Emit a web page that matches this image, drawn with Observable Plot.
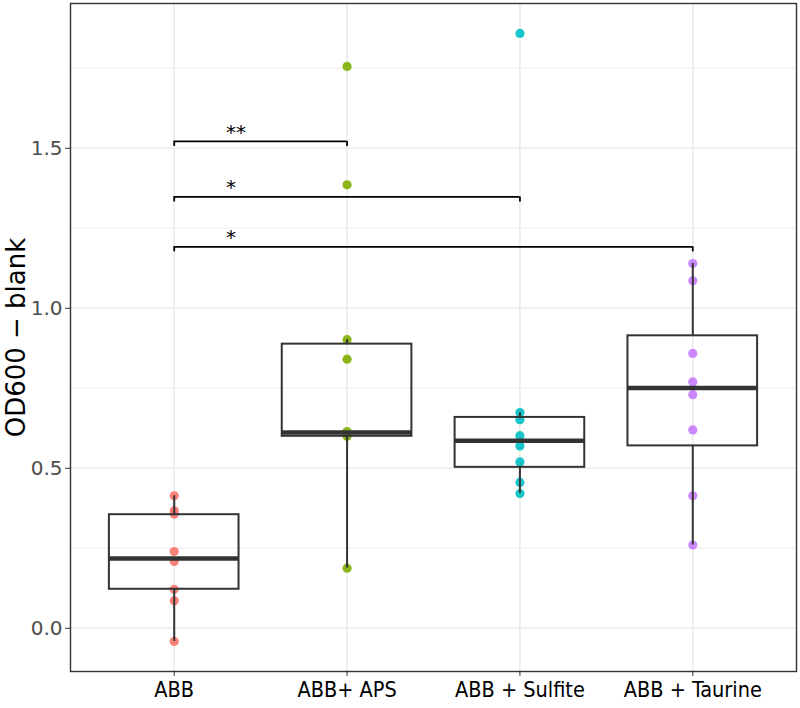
<!DOCTYPE html>
<html>
<head>
<meta charset="utf-8">
<script src="https://cdn.jsdelivr.net/npm/d3@7"></script>
<script src="https://cdn.jsdelivr.net/npm/@observablehq/plot@0.6"></script>
<style>
  html, body { margin: 0; padding: 0; background: #fff; }
  #chart svg { display: block; }
</style>
</head>
<body>
<div id="chart"></div>
<script>
// ---- data ----
const groups = ["ABB", "ABB+ APS", "ABB + Sulfite", "ABB + Taurine"];
const groupColors = ["#F8766D", "#7CAE00", "#00BFC4", "#C77CFF"];

const abbValues = [0.414, 0.367, 0.357, 0.240, 0.209, 0.122, 0.086, -0.041];
const apsValues = [1.756, 1.386, 0.902, 0.841, 0.615, 0.600, 0.188];
const sulfiteValues = [1.859, 0.674, 0.652, 0.602, 0.570, 0.520, 0.456, 0.421];
const taurineValues = [1.140, 1.086, 0.859, 0.770, 0.730, 0.620, 0.414, 0.260];

// box statistics (as drawn)
const boxLow    = [-0.041, 0.188, 0.421, 0.260];
const boxQ1     = [0.122, 0.600, 0.503, 0.570];
const boxMedian = [0.218, 0.612, 0.586, 0.751];
const boxQ3     = [0.355, 0.888, 0.659, 0.914];
const boxHigh   = [0.414, 0.902, 0.674, 1.140];

// significance brackets
const bracketFrom = [1, 1, 1];
const bracketTo = [2, 3, 4];
const bracketY = [1.5216, 1.348, 1.192];
const bracketLabel = ["**", "*", "*"];
const bracketLabelX = [1.30, 1.30, 1.30];
const bracketTip = 0.0156;

const yTicks = [0, 0.5, 1.0, 1.5];
const yMinor = [0.25, 0.75, 1.25, 1.75];
const yTitle = "OD600 \u2212 blank";

// ---- build tables ----
const allValues = [abbValues, apsValues, sulfiteValues, taurineValues];
const points = allValues.flatMap((vals, i) => vals.map(v => ({pos: i + 1, group: groups[i], value: v})));
const boxes = groups.map((g, i) => ({
  pos: i + 1, group: g,
  low: boxLow[i], q1: boxQ1[i], median: boxMedian[i], q3: boxQ3[i], high: boxHigh[i]
}));
const brackets = bracketFrom.map((f, i) => ({from: f, to: bracketTo[i], y: bracketY[i], label: bracketLabel[i], lx: bracketLabelX[i]}));
const tips = brackets.flatMap(b => [{x: b.from, y: b.y}, {x: b.to, y: b.y}]);

const halfWidth = 0.375;
const boxStroke = "#333333";

const chart = Plot.plot({
  width: 800,
  height: 708,
  marginLeft: 70,
  marginRight: 4,
  marginTop: 3,
  marginBottom: 37,
  style: {fontFamily: "'DejaVu Sans', sans-serif", background: "#fff"},
  x: {domain: [0.4, 4.6], axis: null},
  y: {domain: [-0.135, 1.9525], axis: null},
  color: {domain: groups, range: groupColors},
  marks: [
    // grid
    Plot.gridY(yMinor, {stroke: "#EBEBEB", strokeOpacity: 1, strokeWidth: 0.8}),
    Plot.gridY(yTicks, {stroke: "#EBEBEB", strokeOpacity: 1, strokeWidth: 1.6}),
    Plot.gridX([1, 2, 3, 4], {stroke: "#EBEBEB", strokeOpacity: 1, strokeWidth: 1.6}),
    // points
    Plot.dot(points, {x: "pos", y: "value", fill: "group", r: 4.6, fillOpacity: 0.9, stroke: "none"}),
    // whiskers
    Plot.ruleX(boxes, {x: "pos", y1: "low", y2: "q1", stroke: boxStroke, strokeWidth: 2}),
    Plot.ruleX(boxes, {x: "pos", y1: "q3", y2: "high", stroke: boxStroke, strokeWidth: 2}),
    // boxes
    Plot.rect(boxes, {x1: d => d.pos - halfWidth, x2: d => d.pos + halfWidth, y1: "q1", y2: "q3", fill: "none", stroke: boxStroke, strokeWidth: 2}),
    // medians
    Plot.ruleY(boxes, {y: "median", x1: d => d.pos - halfWidth, x2: d => d.pos + halfWidth, stroke: boxStroke, strokeWidth: 4.4}),
    // brackets
    Plot.ruleY(brackets, {y: "y", x1: "from", x2: "to", stroke: "#000", strokeWidth: 1.8}),
    Plot.ruleX(tips, {x: "x", y1: "y", y2: d => d.y - bracketTip, stroke: "#000", strokeWidth: 1.8}),
    Plot.text(brackets, {x: "lx", y: "y", text: "label", textAnchor: "start", dy: -9, fontSize: 20, fontFamily: "'DejaVu Sans', sans-serif", fill: "#000"}),
    // frame
    Plot.frame({stroke: "#333333", strokeWidth: 1.4}),
    // axes
    Plot.axisY(yTicks, {tickFormat: d3.format(".1f"), tickSize: 5, tickPadding: 3, stroke: "#333", fill: "#4D4D4D", fontSize: 20, fontFamily: "'DejaVu Sans', sans-serif", label: null}),
    Plot.axisX([1, 2, 3, 4], {tickFormat: d => groups[d - 1], tickSize: 5, tickPadding: 5, stroke: "#333", fill: "#000", fontSize: 21.5, fontFamily: "'DejaVu Sans Condensed', 'DejaVu Sans', sans-serif", label: null}),
    Plot.text([yTitle], {frameAnchor: "left", text: d => d, rotate: -90, textAnchor: "middle", dx: -54, fontSize: 26, fontFamily: "'DejaVu Sans', sans-serif", fill: "#000"})
  ]
});

document.getElementById("chart").appendChild(chart);
</script>
</body>
</html>
